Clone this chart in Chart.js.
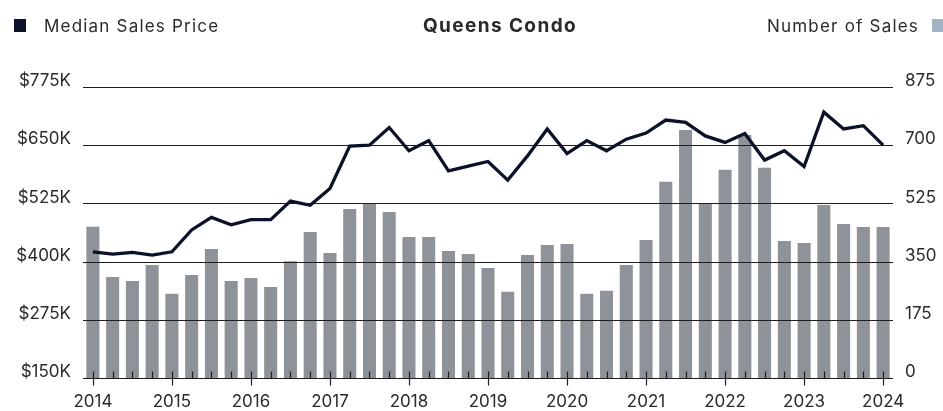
<!DOCTYPE html>
<html>
<head>
<meta charset="utf-8">
<script src="https://cdn.jsdelivr.net/npm/chart.js@4/dist/chart.umd.min.js"></script>
<style>
  html, body { margin: 0; padding: 0; background: #fff; }
  #wrap { position: relative; width: 943px; height: 411px; overflow: hidden; font-family: Inter, "Noto Sans", sans-serif; color: #2a2a2a; }
  canvas { position: absolute; left: 0; top: 0; }
  .hdr { position: absolute; top: 15px; font-size: 17px; line-height: 22px; letter-spacing: 1.2px; white-space: nowrap; }
  .sq { position: absolute; width: 12px; height: 13px; }
</style>
</head>
<body>
<div id="wrap">
  <canvas id="c" width="943" height="411"></canvas>
  <div class="sq" style="left:14px; top:19px; background:#0b1128;"></div>
  <div class="hdr" style="left:44px;">Median Sales Price</div>
  <div class="hdr" style="left:0; width:1000px; text-align:center; font-weight:700; font-size:19px; letter-spacing:1.4px;">Queens Condo</div>
  <div class="hdr" style="right:24px;">Number of Sales</div>
  <div class="sq" style="left:932px; top:19px; background:#a4b2c6;"></div>
</div>
<script>
const quarters = [
  "2014 Q1","2014 Q2","2014 Q3","2014 Q4",
  "2015 Q1","2015 Q2","2015 Q3","2015 Q4",
  "2016 Q1","2016 Q2","2016 Q3","2016 Q4",
  "2017 Q1","2017 Q2","2017 Q3","2017 Q4",
  "2018 Q1","2018 Q2","2018 Q3","2018 Q4",
  "2019 Q1","2019 Q2","2019 Q3","2019 Q4",
  "2020 Q1","2020 Q2","2020 Q3","2020 Q4",
  "2021 Q1","2021 Q2","2021 Q3","2021 Q4",
  "2022 Q1","2022 Q2","2022 Q3","2022 Q4",
  "2023 Q1","2023 Q2","2023 Q3","2023 Q4",
  "2024 Q1"
];
const yearLabels = ["2014","2015","2016","2017","2018","2019","2020","2021","2022","2023","2024"];
// Median sales price, in $K
const medianPrice = [
  421, 416, 420, 414,
  421, 468, 495, 479,
  490, 490, 530, 521,
  557, 648, 650, 688,
  638, 660, 595, 605,
  615, 575, 627, 685,
  632, 660, 638, 663,
  676, 704, 699, 670,
  656, 675, 618, 638,
  604, 721, 685, 692,
  650
];
// Number of sales
const salesCount = [
  455, 304, 292, 340,
  253, 310, 388, 292,
  301, 274, 351, 439,
  376, 508, 525, 499,
  424, 424, 382, 373,
  331, 259, 370, 400,
  403, 253, 262, 340,
  415, 590, 746, 525,
  626, 731, 632, 412,
  406, 520, 463, 454,
  454
];
const priceTicks = [150, 275, 400, 525, 650, 775];
const countTicks = [0, 175, 350, 525, 700, 875];

const FONT = 'Inter, "Noto Sans", sans-serif';
const TEXT = '#2a2a2a';

const overlay = {
  id: 'overlay',
  afterDatasetDraw(chart, args) {
    if (args.meta.type !== 'bar') return;
    const ctx = chart.ctx, ca = chart.chartArea, y = chart.scales.yPrice;
    ctx.save();
    ctx.strokeStyle = '#1e1e1e';
    ctx.lineWidth = 1;
    priceTicks.forEach(v => {
      const py = Math.round(y.getPixelForValue(v)) + 0.5;
      ctx.beginPath(); ctx.moveTo(ca.left, py); ctx.lineTo(ca.right, py); ctx.stroke();
    });
    const x = chart.scales.x;
    const base = Math.round(y.getPixelForValue(150)) + 0.5;
    ctx.lineWidth = 1.2;
    quarters.forEach((q, i) => {
      const px = Math.round(x.getPixelForValue(i)) + 0.5;
      const major = i % 4 === 0;
      ctx.beginPath(); ctx.moveTo(px, base - 7); ctx.lineTo(px, base + (major ? 7 : 0)); ctx.stroke();
    });
    ctx.restore();
  }
};

new Chart(document.getElementById('c'), {
  data: {
    labels: quarters,
    datasets: [
      { type: 'line', label: 'Median Sales Price', data: medianPrice, yAxisID: 'yPrice', order: 0,
        borderColor: '#0b1128', borderWidth: 3.3, pointRadius: 0, tension: 0, borderJoinStyle: 'miter', fill: false },
      { type: 'bar', label: 'Number of Sales', data: salesCount, yAxisID: 'yCount', order: 1,
        backgroundColor: '#8e9399', barPercentage: 0.66, categoryPercentage: 1 }
    ]
  },
  options: {
    responsive: false,
    animation: false,
    events: [],
    layout: { padding: { top: 87, left: 0, right: 0, bottom: 0 } },
    plugins: { legend: { display: false }, title: { display: false }, tooltip: { enabled: false } },
    scales: {
      x: {
        type: 'category', offset: true,
        grid: { display: false, drawTicks: false },
        border: { display: false },
        afterFit(s) { s.height = 33; },
        ticks: {
          autoSkip: false, maxRotation: 0, padding: 14,
          color: TEXT, font: { family: FONT, size: 17 },
          callback(v, i) { return i % 4 === 0 ? yearLabels[i / 4] : ''; }
        }
      },
      yPrice: {
        position: 'left', min: 150, max: 775,
        grid: { display: false, drawTicks: false },
        border: { display: false },
        afterFit(s) { s.width = 83; },
        afterBuildTicks(s) { s.ticks = priceTicks.map(v => ({ value: v })); },
        ticks: { padding: 12, labelOffset: -6, color: TEXT, font: { family: FONT, size: 17 },
          callback(v) { return '$' + v + 'K'; } }
      },
      yCount: {
        position: 'right', min: 0, max: 875,
        grid: { display: false, drawTicks: false },
        border: { display: false },
        afterFit(s) { s.width = 50; },
        afterBuildTicks(s) { s.ticks = countTicks.map(v => ({ value: v })); },
        ticks: { padding: 12, labelOffset: -6, color: TEXT, font: { family: FONT, size: 17 } }
      }
    }
  },
  plugins: [overlay]
});
</script>
</body>
</html>
